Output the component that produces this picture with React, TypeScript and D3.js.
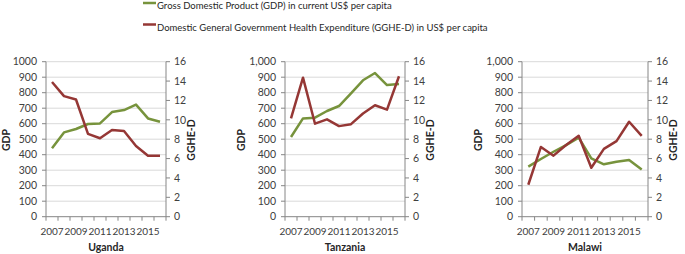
import React from "react";
import * as d3 from "d3";

const years = ["2007", "2008", "2009", "2010", "2011", "2012", "2013", "2014", "2015", "2016"];
const yearLabels = ["2007", "2009", "2011", "2013", "2015"];

const ugandaGdp = [441, 544, 566, 598, 602, 675, 688, 723, 634, 613];
const ugandaGghe = [13.9, 12.45, 12.1, 8.55, 8.1, 8.95, 8.85, 7.3, 6.3, 6.3];
const tanzaniaGdp = [514, 634, 639, 682, 714, 796, 880, 927, 849, 856];
const tanzaniaGghe = [10.15, 14.35, 9.6, 10.05, 9.35, 9.55, 10.65, 11.5, 11.05, 14.5];
const malawiGdp = [323, 372, 419, 462, 510, 376, 338, 355, 366, 305];
const malawiGghe = [3.3, 7.2, 6.3, 7.4, 8.35, 5.05, 7.0, 7.8, 9.8, 8.35];

const gdpTicks = [0, 100, 200, 300, 400, 500, 600, 700, 800, 900, 1000];
const ggheTicks = [0, 2, 4, 6, 8, 10, 12, 14, 16];

const countries = ["Uganda", "Tanzania", "Malawi"];
const legendLabels = [
  "Gross Domestic Product (GDP) in current US$ per capita",
  "Domestic General Government Health Expenditure (GGHE-D) in US$ per capita",
];

const GREEN = "#77933C";
const RED = "#953735";
const GRID = "#D9D9D9";
const AXIS = "#868686";
const FONT = "Lato, sans-serif";

const panels = [
  { name: countries[0], gdp: ugandaGdp, gghe: ugandaGghe, left: 46, right: 166, comma: false },
  { name: countries[1], gdp: tanzaniaGdp, gghe: tanzaniaGghe, left: 285, right: 405, comma: true },
  { name: countries[2], gdp: malawiGdp, gghe: malawiGghe, left: 522, right: 648, comma: true },
];

const TOP = 61.7;
const BOTTOM = 216.7;

function Panel({ p }: { p: typeof panels[number] }) {
  const x = d3.scaleBand<string>().domain(years).range([p.left, p.right]).padding(0);
  const yL = d3.scaleLinear().domain([0, 1000]).range([BOTTOM, TOP]);
  const yR = d3.scaleLinear().domain([0, 16]).range([BOTTOM, TOP]);
  const cx = (d: string) => (x(d) as number) + x.bandwidth() / 2;
  const gdpLine = d3
    .line<number>()
    .x((_, i) => cx(years[i]))
    .y((v) => yL(v));
  const ggheLine = d3
    .line<number>()
    .x((_, i) => cx(years[i]))
    .y((v) => yR(v));
  const fmt = p.comma ? d3.format(",") : d3.format("d");
  const boundaries = years.map((d) => x(d) as number).concat([p.right]);
  const mid = (p.left + p.right) / 2;
  return (
    <g>
      {gdpTicks.slice(1).map((t) => (
        <line key={"g" + t} x1={p.left} x2={p.right} y1={yL(t)} y2={yL(t)} stroke={GRID} strokeWidth={1} />
      ))}
      {gdpTicks.map((t) => (
        <line key={"lt" + t} x1={p.left - 4} x2={p.left} y1={yL(t)} y2={yL(t)} stroke={AXIS} strokeWidth={1} />
      ))}
      {ggheTicks.map((t) => (
        <line key={"rt" + t} x1={p.right} x2={p.right + 4} y1={yR(t)} y2={yR(t)} stroke={AXIS} strokeWidth={1} />
      ))}
      {boundaries.map((b, i) => (
        <line key={"bt" + i} x1={b} x2={b} y1={BOTTOM} y2={BOTTOM + 4} stroke={AXIS} strokeWidth={1} />
      ))}
      <line x1={p.left} x2={p.left} y1={TOP} y2={BOTTOM} stroke={AXIS} strokeWidth={1} />
      <line x1={p.right} x2={p.right} y1={TOP} y2={BOTTOM} stroke={AXIS} strokeWidth={1} />
      <line x1={p.left} x2={p.right} y1={BOTTOM} y2={BOTTOM} stroke={AXIS} strokeWidth={1} />
      {gdpTicks.map((t) => (
        <text key={"ll" + t} x={p.left - 9} y={yL(t)} dy="0.36em" textAnchor="end" fontSize={10.5} fill="#404040" fontFamily={FONT}>
          {fmt(t)}
        </text>
      ))}
      {ggheTicks.map((t) => (
        <text key={"rl" + t} x={p.right + 8} y={yR(t)} dy="0.36em" textAnchor="start" fontSize={10.5} fill="#404040" fontFamily={FONT}>
          {t}
        </text>
      ))}
      {yearLabels.map((d) => (
        <text key={"xl" + d} x={cx(d)} y={234.5} textAnchor="middle" fontSize={10} fill="#404040" fontFamily={FONT}>
          {d}
        </text>
      ))}
      <text x={mid} y={250.5} textAnchor="middle" fontSize={10.5} fontWeight="bold" fill="#262626" fontFamily={FONT}>
        {p.name}
      </text>
      <text
        transform={`translate(${p.left - (p.comma ? 44 : 40)},${140}) rotate(-90)`}
        textAnchor="middle"
        dy="0.35em"
        fontSize={10.5}
        fontWeight="bold"
        fill="#262626"
        fontFamily={FONT}
      >
        GDP
      </text>
      <text
        transform={`translate(${p.right + 25},${140}) rotate(-90)`}
        textAnchor="middle"
        dy="0.35em"
        fontSize={10.5}
        fontWeight="bold"
        fill="#262626"
        fontFamily={FONT}
      >
        GGHE-D
      </text>
      <path d={gdpLine(p.gdp) || ""} fill="none" stroke={GREEN} strokeWidth={2.5} strokeLinejoin="round" />
      <path d={ggheLine(p.gghe) || ""} fill="none" stroke={RED} strokeWidth={2.5} strokeLinejoin="round" />
    </g>
  );
}

export default function App() {
  const legendColors = [GREEN, RED];
  return (
    <svg width={685} height={254} style={{ position: "absolute", left: 0, top: 0, background: "#fff" }}>
      {legendLabels.map((l, i) => (
        <g key={l}>
          <line x1={143} x2={156} y1={3 + i * 21.5} y2={3 + i * 21.5} stroke={legendColors[i]} strokeWidth={2.5} />
          <text x={157} y={6 + i * 22} dy="0.35em" fontSize={9.5} fill="#262626" fontFamily={FONT}>
            {l}
          </text>
        </g>
      ))}
      {panels.map((p) => (
        <Panel key={p.name} p={p} />
      ))}
    </svg>
  );
}
